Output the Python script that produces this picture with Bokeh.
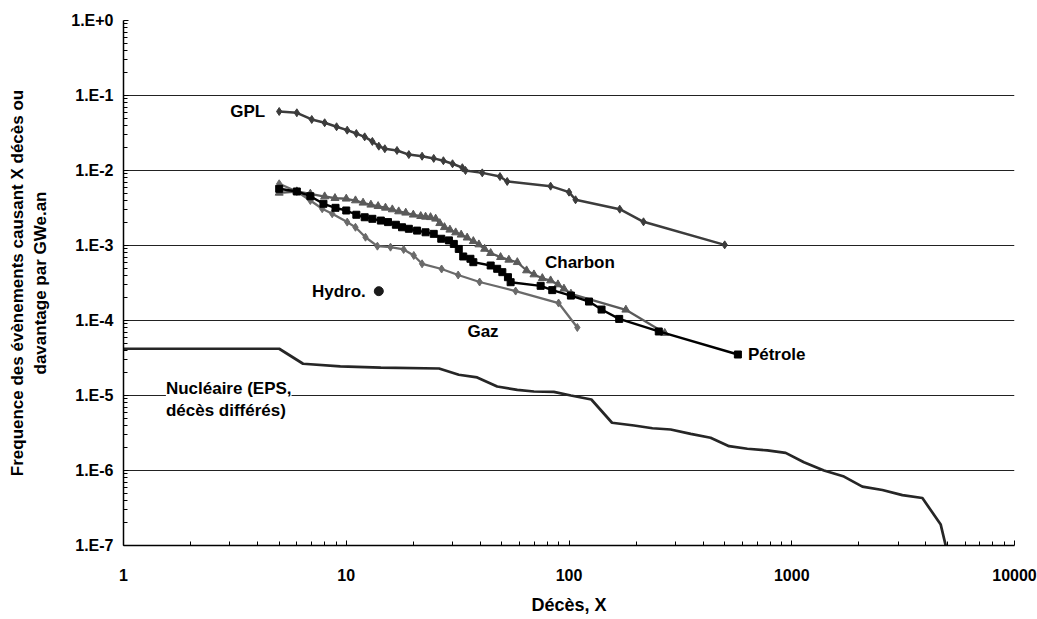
from bokeh.plotting import figure
from bokeh.models import FixedTicker, CustomJSTickFormatter, Label
from bokeh.embed import file_html
from bokeh.resources import INLINE

# ---------------- data ----------------
gpl_x = [5.0, 6.0, 7.0, 8.0, 9.05, 10.1, 11.1, 12.1, 13.1, 14.0, 14.9, 16.9, 19.1, 21.9,
         24.7, 27.3, 30.0, 33.2, 34.3, 40.8, 49.0, 52.8, 82.7, 100, 107, 169, 216, 500]
gpl_y = [0.0612, 0.0588, 0.0479, 0.0433, 0.0383, 0.0345, 0.0311, 0.0281, 0.0244, 0.0211,
         0.0195, 0.0185, 0.0163, 0.0155, 0.0145, 0.0135, 0.0123, 0.0109, 0.0100, 0.0093,
         0.0083, 0.00714, 0.00618, 0.00514, 0.00407, 0.00305, 0.00207, 0.00102]

charbon_x = [5.0, 6.0, 6.9, 8.0, 8.9, 10.0, 11.0, 11.9, 12.9, 13.9, 15.0, 16.1, 17.2, 18.5,
             20.0, 21.6, 22.7, 23.9, 25.2, 26.3, 27.6, 29.2, 31.0, 32.8, 34.9, 37.2, 39.4,
             41.8, 44.5, 49.3, 53.7, 58.6, 64.5, 69.6, 75.9, 82.7, 89.2, 94.9, 102, 180, 269]
charbon_y = [5.04e-3, 5.25e-3, 4.89e-3, 4.5e-3, 4.27e-3, 4.2e-3, 3.98e-3, 3.71e-3, 3.49e-3,
             3.34e-3, 3.18e-3, 3.02e-3, 2.84e-3, 2.73e-3, 2.57e-3, 2.46e-3, 2.41e-3, 2.38e-3,
             2.27e-3, 1.98e-3, 1.75e-3, 1.62e-3, 1.49e-3, 1.39e-3, 1.27e-3, 1.14e-3, 1.03e-3,
             9.0e-4, 7.9e-4, 6.98e-4, 6.44e-4, 5.98e-4, 4.64e-4, 4.1e-4, 3.66e-4, 3.41e-4,
             3.02e-4, 2.65e-4, 2.27e-4, 1.39e-4, 6.8e-5]

petrole_x = [5.0, 6.0, 6.9, 7.9, 8.95, 10.0, 11.1, 12.1, 13.1, 14.3, 15.4, 16.7, 17.8, 19.1,
             20.8, 22.7, 24.7, 26.7, 28.9, 30.4, 32.0, 33.5, 36.1, 37.2, 44.5, 47.6, 50.2,
             53.2, 54.7, 74.6, 84.1, 102, 123, 140, 168, 253, 573]
petrole_y = [5.7e-3, 5.25e-3, 4.54e-3, 3.6e-3, 3.18e-3, 2.93e-3, 2.57e-3, 2.38e-3, 2.27e-3,
             2.15e-3, 2.05e-3, 1.89e-3, 1.75e-3, 1.67e-3, 1.58e-3, 1.5e-3, 1.43e-3, 1.23e-3,
             1.17e-3, 1.05e-3, 9.0e-4, 7.14e-4, 6.65e-4, 5.99e-4, 5.41e-4, 4.89e-4, 4.41e-4,
             3.78e-4, 3.24e-4, 2.9e-4, 2.54e-4, 2.15e-4, 1.79e-4, 1.4e-4, 1.05e-4, 7.14e-5,
             3.52e-5]

gaz_x = [5.0, 6.0, 6.9, 7.8, 8.65, 10.1, 11.0, 12.2, 13.8, 15.8, 18.1, 20.1, 21.9, 26.8,
         31.8, 39.7, 57.6, 89.8, 109]
gaz_y = [6.65e-3, 5.25e-3, 3.98e-3, 3.09e-3, 2.65e-3, 2.05e-3, 1.75e-3, 1.29e-3, 9.8e-4,
         9.5e-4, 8.85e-4, 7.36e-4, 5.7e-4, 4.86e-4, 4.04e-4, 3.26e-4, 2.47e-4, 1.71e-4, 8.07e-5]

hydro_x = [14.0]
hydro_y = [2.46e-4]

nucl_x = [1, 5.0, 6.4, 9.4, 14.3, 26.1, 32.0, 38.7, 47.6, 58.6, 69.6, 85.5, 102, 126, 156,
          196, 237, 286, 352, 432, 523, 632, 777, 939, 1134, 1395, 1716, 2075, 2552, 3138,
          3859, 4664, 4961]
nucl_y = [4.2e-5, 4.2e-5, 2.65e-5, 2.44e-5, 2.36e-5, 2.29e-5, 1.89e-5, 1.74e-5, 1.32e-5,
          1.19e-5, 1.13e-5, 1.12e-5, 1.0e-5, 8.85e-6, 4.33e-6, 3.98e-6, 3.66e-6, 3.52e-6,
          3.08e-6, 2.73e-6, 2.11e-6, 1.95e-6, 1.85e-6, 1.72e-6, 1.29e-6, 1.0e-6, 8.3e-7,
          6.1e-7, 5.5e-7, 4.7e-7, 4.3e-7, 1.9e-7, 8.8e-8]

x_decades = [1, 10, 100, 1000, 10000]
y_decades = [1e-7, 1e-6, 1e-5, 1e-4, 1e-3, 1e-2, 1e-1, 1]

y_title = "Frequence des évènements causant X décès ou\ndavantage par GWe.an"
x_title = "Décès, X"

FONT = "Liberation Sans"

# ---------------- figure ----------------
p = figure(width=1037, height=619, x_axis_type="log", y_axis_type="log",
           x_range=(1, 10000), y_range=(1e-7, 1),
           output_backend="svg", toolbar_location=None,
           min_border_left=123, min_border_right=23, min_border_top=20, min_border_bottom=74)
p.outline_line_color = None
p.background_fill_color = "white"
p.border_fill_color = "white"

x_minor = [m * d for d in x_decades[:-1] for m in range(2, 10)]
y_minor = [m * d for d in y_decades[:-1] for m in range(2, 10)]
p.xaxis.ticker = FixedTicker(ticks=x_decades, minor_ticks=x_minor)
p.yaxis.ticker = FixedTicker(ticks=y_decades, minor_ticks=y_minor)
p.xaxis.formatter = CustomJSTickFormatter(code="return Math.round(tick).toString();")
p.yaxis.formatter = CustomJSTickFormatter(code="""
const e = Math.round(Math.log10(tick));
return '1.E' + (e >= 0 ? '+' : '') + e;
""")

for ax in (p.xaxis, p.yaxis):
    ax.axis_line_color = "black"
    ax.axis_line_width = 1.5
    ax.major_tick_line_color = "black"
    ax.minor_tick_line_color = "black"
    ax.major_tick_out = 0
    ax.minor_tick_out = 0
    ax.major_tick_in = 5
    ax.minor_tick_in = 4
    ax.major_label_text_font = FONT
    ax.major_label_text_font_style = "bold"
    ax.major_label_text_font_size = "16px"
    ax.major_label_text_color = "black"
    ax.axis_label_text_font = FONT
    ax.axis_label_text_font_style = "bold"
    ax.axis_label_text_color = "black"

p.yaxis.axis_label = y_title
p.xaxis.axis_label = x_title
p.yaxis.axis_label_text_font_size = "17px"
p.xaxis.axis_label_text_font_size = "18px"
p.yaxis.major_label_standoff = 10
p.yaxis.axis_label_standoff = 18
p.xaxis.major_label_standoff = 23
p.xaxis.axis_label_standoff = 11

p.xgrid.grid_line_color = None
p.ygrid.grid_line_color = "#222222"
p.ygrid.grid_line_width = 1

# ---------------- series ----------------
p.line(nucl_x, nucl_y, line_color="#262626", line_width=2.7)

p.line(gpl_x, gpl_y, line_color="#3c3c3c", line_width=2.5)
p.scatter(gpl_x, gpl_y, marker="diamond", size=8, color="#3c3c3c")

p.line(gaz_x, gaz_y, line_color="#6a6a6a", line_width=2.3)
p.scatter(gaz_x, gaz_y, marker="diamond", size=8, color="#6a6a6a")

p.line(charbon_x, charbon_y, line_color="#5a5a5a", line_width=2.3)
p.scatter(charbon_x, charbon_y, marker="triangle", size=8, color="#5a5a5a")

p.line(petrole_x, petrole_y, line_color="black", line_width=2.4)
p.scatter(petrole_x, petrole_y, marker="square", size=7, color="black")

p.scatter(hydro_x, hydro_y, marker="circle", size=9, color="#1a1a1a")

# ---------------- labels ----------------
def lab(x, y, text, align="left", xo=0, yo=0, bg=None):
    l = Label(x=x, y=y, text=text, text_align=align, text_baseline="middle",
              x_offset=xo, y_offset=yo, text_font=FONT, text_font_style="bold",
              text_font_size="17px", text_color="black")
    if bg:
        l.background_fill_color = bg
    p.add_layout(l)

lab(gpl_x[0], gpl_y[0], "GPL", align="right", xo=-14)
lab(petrole_x[-1], petrole_y[-1], "Pétrole", align="left", xo=10)
lab(hydro_x[0], hydro_y[0], "Hydro.", align="right", xo=-13)
lab(78, 5.9e-4, "Charbon")
lab(35, 7.2e-5, "Gaz")
lab(1.55, 1.0e-5, "Nucléaire (EPS,\ndécès différés)", bg="white", yo=-4)

open("out.html", "w").write(file_html(p, INLINE))
